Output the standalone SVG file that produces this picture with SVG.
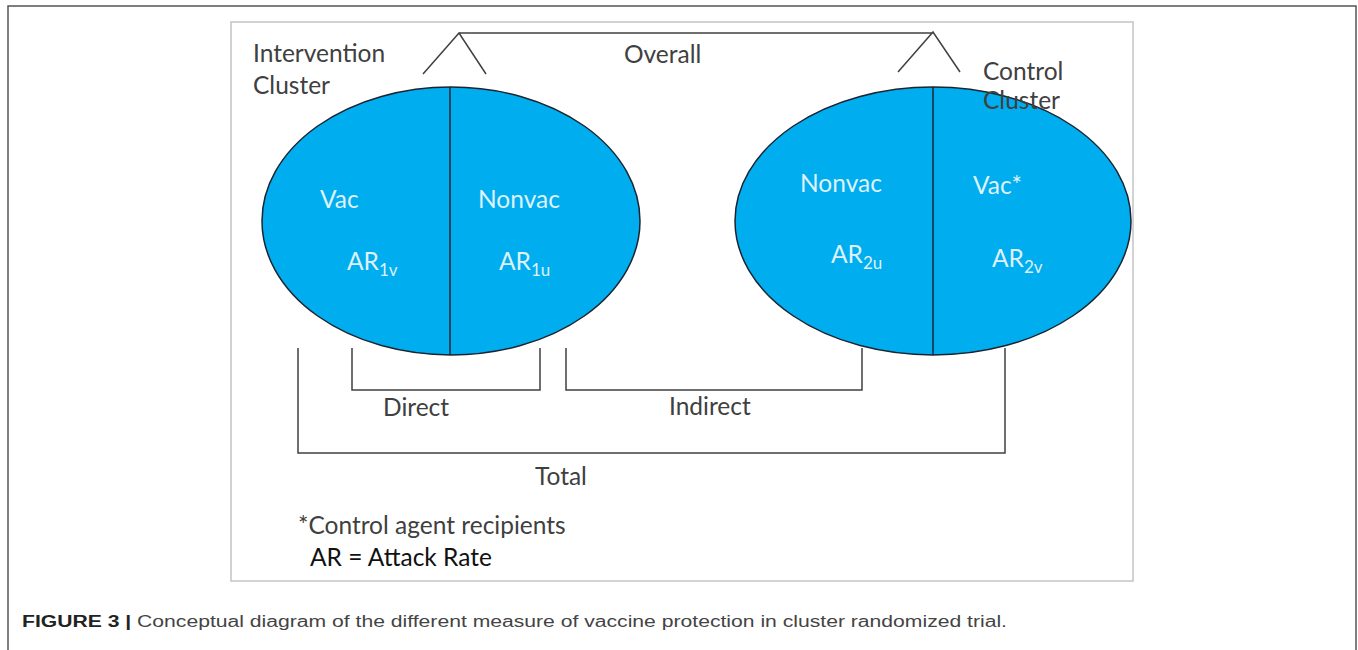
<svg xmlns="http://www.w3.org/2000/svg" width="1358" height="650" viewBox="0 0 1358 650">
<style>
.lbl{font-family:Lato,"Open Sans","Liberation Sans",sans-serif;font-size:24.5px;fill:#404040}
.in{font-family:Lato,"Open Sans","Liberation Sans",sans-serif;font-size:24.5px;fill:#dff1fa}
.sub{font-size:17px}
.ell{fill:#00AEEF;stroke:#1b2430;stroke-width:1.5}
.div{stroke:#1b2430;stroke-width:1.5}
.br{fill:none;stroke:#404040;stroke-width:1.5}
.cap{font-family:"Liberation Sans",Arial,sans-serif;font-size:16px;fill:#444}
</style>
<rect width="1358" height="650" fill="#fff"/>
<path d="M8,650 V6 H1356 V650" fill="none" stroke="#555" stroke-width="1.5"/>
<rect x="231" y="22" width="902" height="559" fill="#fff" stroke="#c4c4c4" stroke-width="1.5"/>
<g id="intervention-cluster">
<ellipse class="ell" cx="451" cy="221" rx="189" ry="134"/>
<line class="div" x1="450" y1="87" x2="450" y2="355"/>
<text class="lbl" x="253" y="62">Intervention</text>
<text class="lbl" x="253" y="94">Cluster</text>
<text class="in" x="320" y="208">Vac</text>
<text class="in" x="347" y="270">AR<tspan class="sub" dy="6">1v</tspan></text>
<text class="in" x="478" y="208">Nonvac</text>
<text class="in" x="499" y="270">AR<tspan class="sub" dy="6">1u</tspan></text>
</g>
<g id="control-cluster">
<ellipse class="ell" cx="933" cy="221" rx="198" ry="134"/>
<line class="div" x1="933" y1="87" x2="933" y2="355"/>
<text class="lbl" x="983" y="80">Control</text>
<text class="lbl" x="983" y="109">Cluster</text>
<text class="in" x="800" y="192">Nonvac</text>
<text class="in" x="831" y="263">AR<tspan class="sub" dy="6">2u</tspan></text>
<text class="in" x="973" y="194">Vac*</text>
<text class="in" x="992" y="267">AR<tspan class="sub" dy="6">2v</tspan></text>
</g>
<g id="connectors">
<path class="br" d="M423,74 L459,33 L486,74 M459,33 H933 M898,72 L933,32 L960,72"/>
<path class="br" d="M352,348 V390 H540 V348"/>
<path class="br" d="M566,348 V390 H862 V348"/>
<path class="br" d="M298,348 V453 H1005 V348"/>
</g>
<g id="labels">
<text class="lbl" x="624" y="63">Overall</text>
<text class="lbl" x="383" y="416">Direct</text>
<text class="lbl" x="669" y="415">Indirect</text>
<text class="lbl" x="535" y="485">Total</text>
<text class="lbl" x="298" y="534">*Control agent recipients</text>
<text class="lbl" x="310" y="566" style="fill:#111">AR = Attack Rate</text>
</g>
<text class="cap" x="22" y="627" textLength="985" lengthAdjust="spacingAndGlyphs"><tspan font-weight="bold" fill="#222">FIGURE 3 |</tspan> Conceptual diagram of the different measure of vaccine protection in cluster randomized trial.</text>
</svg>
